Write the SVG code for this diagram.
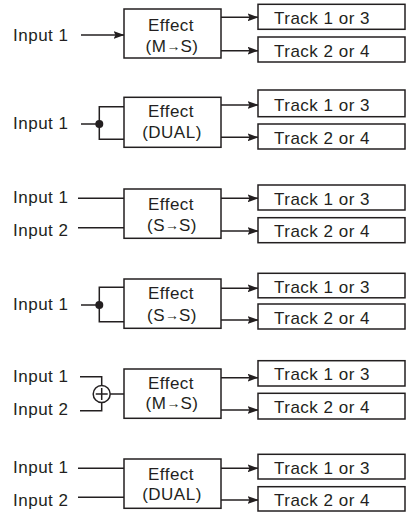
<svg xmlns="http://www.w3.org/2000/svg" width="411" height="512" viewBox="0 0 411 512">
<style>
.box{fill:#fff;stroke:#231f20;stroke-width:1.5}
.ln{fill:none;stroke:#231f20;stroke-width:1.5}
.ar{fill:none;stroke:#231f20;stroke-width:1.5;marker-end:url(#ah)}
text{font-family:"Liberation Sans",Arial,Helvetica,sans-serif;font-size:17px;letter-spacing:0.5px;fill:#231f20}
.c{text-anchor:middle}
.sm{font-size:14px;letter-spacing:0}
.dot{fill:#231f20}
</style>
<defs>
<marker id="ah" markerUnits="userSpaceOnUse" viewBox="0 0 11 8" refX="10.5" refY="4" markerWidth="11" markerHeight="8" orient="auto">
<path d="M0,0 L11,4 L0,8 L2,4 Z" fill="#231f20"/>
</marker>
</defs>
<g id="connectors">
<path class="ar" d="M81,35 H124"/>
<path class="ar" d="M221,17.3 H258"/>
<path class="ar" d="M221,50.7 H258"/>
<path class="ln" d="M81,124 H99.3"/>
<path class="ln" d="M124,106.7 H99.3 V139.3 H124"/>
<path class="ar" d="M221,105 H258"/>
<path class="ar" d="M221,137.3 H258"/>
<path class="ln" d="M78,198.3 H124"/>
<path class="ln" d="M78,227.7 H124"/>
<path class="ar" d="M221,198.3 H258"/>
<path class="ar" d="M221,231 H258"/>
<path class="ln" d="M81,305 H99.3"/>
<path class="ln" d="M124,287.3 H99.3 V321.7 H124"/>
<path class="ar" d="M221,288.3 H258"/>
<path class="ar" d="M221,320 H258"/>
<path class="ln" d="M80,376.7 H101.7 V385.5"/>
<path class="ln" d="M80,410.7 H101.7 V402.5"/>
<path class="ln" d="M110.2,394 H124"/>
<path class="ar" d="M221,377.7 H258"/>
<path class="ar" d="M221,410 H258"/>
<path class="ln" d="M78,468.3 H124"/>
<path class="ln" d="M78,497.3 H124"/>
<path class="ar" d="M221,468.3 H258"/>
<path class="ar" d="M221,500 H258"/>
</g>

<g id="p1-input1"><text x="13" y="40.7">Input 1</text></g>
<g id="p1-effect"><rect class="box" x="124" y="9" width="97" height="49"/><text class="c" x="171" y="30.7">Effect</text><text class="c" x="172" y="51.7">(M<tspan class="sm" dy="-1">→</tspan><tspan dy="1">S)</tspan></text></g>
<g id="p1-track1"><rect class="box" x="258" y="4.3" width="147" height="25"/><text x="274" y="24">Track 1 or 3</text></g>
<g id="p1-track2"><rect class="box" x="258" y="37" width="147" height="25"/><text x="274" y="56.5">Track 2 or 4</text></g>

<g id="p2-input1"><text x="13" y="129">Input 1</text></g>
<g id="p2-split"><circle class="dot" cx="99.3" cy="124" r="4"/></g>
<g id="p2-effect"><rect class="box" x="124" y="97.3" width="97" height="50"/><text class="c" x="171" y="117.3">Effect</text><text class="c" x="172" y="138.3">(DUAL)</text></g>
<g id="p2-track1"><rect class="box" x="258" y="90" width="147" height="26.7"/><text x="274" y="110.5">Track 1 or 3</text></g>
<g id="p2-track2"><rect class="box" x="258" y="124" width="147" height="25"/><text x="274" y="143.5">Track 2 or 4</text></g>

<g id="p3-input1"><text x="13" y="203.3">Input 1</text></g>
<g id="p3-input2"><text x="13" y="236">Input 2</text></g>
<g id="p3-effect"><rect class="box" x="124" y="189" width="97" height="49.3"/><text class="c" x="171" y="210">Effect</text><text class="c" x="172" y="231">(S<tspan class="sm" dy="-1">→</tspan><tspan dy="1">S)</tspan></text></g>
<g id="p3-track1"><rect class="box" x="258" y="185" width="147" height="25"/><text x="274" y="204.5">Track 1 or 3</text></g>
<g id="p3-track2"><rect class="box" x="258" y="217.7" width="147" height="25"/><text x="274" y="237.2">Track 2 or 4</text></g>

<g id="p4-input1"><text x="13" y="310">Input 1</text></g>
<g id="p4-split"><circle class="dot" cx="99.3" cy="305" r="4"/></g>
<g id="p4-effect"><rect class="box" x="124" y="279" width="97" height="49.3"/><text class="c" x="171" y="299.3">Effect</text><text class="c" x="172" y="320.7">(S<tspan class="sm" dy="-1">→</tspan><tspan dy="1">S)</tspan></text></g>
<g id="p4-track1"><rect class="box" x="258" y="273.3" width="147" height="24.5"/><text x="274" y="292.5">Track 1 or 3</text></g>
<g id="p4-track2"><rect class="box" x="258" y="304" width="147" height="25"/><text x="274" y="323.5">Track 2 or 4</text></g>

<g id="p5-input1"><text x="13" y="381.7">Input 1</text></g>
<g id="p5-input2"><text x="13" y="415">Input 2</text></g>
<g id="p5-mixer"><circle cx="101.7" cy="394" r="8.5" fill="#fff" stroke="#231f20" stroke-width="1.5"/><path class="ln" d="M95.7,394 H107.7 M101.7,388 V400"/></g>
<g id="p5-effect"><rect class="box" x="124" y="369" width="97" height="49.3"/><text class="c" x="171" y="389.3">Effect</text><text class="c" x="172" y="409.3">(M<tspan class="sm" dy="-1">→</tspan><tspan dy="1">S)</tspan></text></g>
<g id="p5-track1"><rect class="box" x="258" y="360.7" width="147" height="25.3"/><text x="274" y="380.3">Track 1 or 3</text></g>
<g id="p5-track2"><rect class="box" x="258" y="393.3" width="147" height="25.7"/><text x="274" y="413.2">Track 2 or 4</text></g>

<g id="p6-input1"><text x="13" y="473.3">Input 1</text></g>
<g id="p6-input2"><text x="13" y="506">Input 2</text></g>
<g id="p6-effect"><rect class="box" x="124" y="459" width="97" height="49.3"/><text class="c" x="171" y="480">Effect</text><text class="c" x="172" y="500">(DUAL)</text></g>
<g id="p6-track1"><rect class="box" x="258" y="454.3" width="147" height="24.7"/><text x="274" y="473.7">Track 1 or 3</text></g>
<g id="p6-track2"><rect class="box" x="258" y="486.7" width="147" height="24.3"/><text x="274" y="505.8">Track 2 or 4</text></g>
</svg>
